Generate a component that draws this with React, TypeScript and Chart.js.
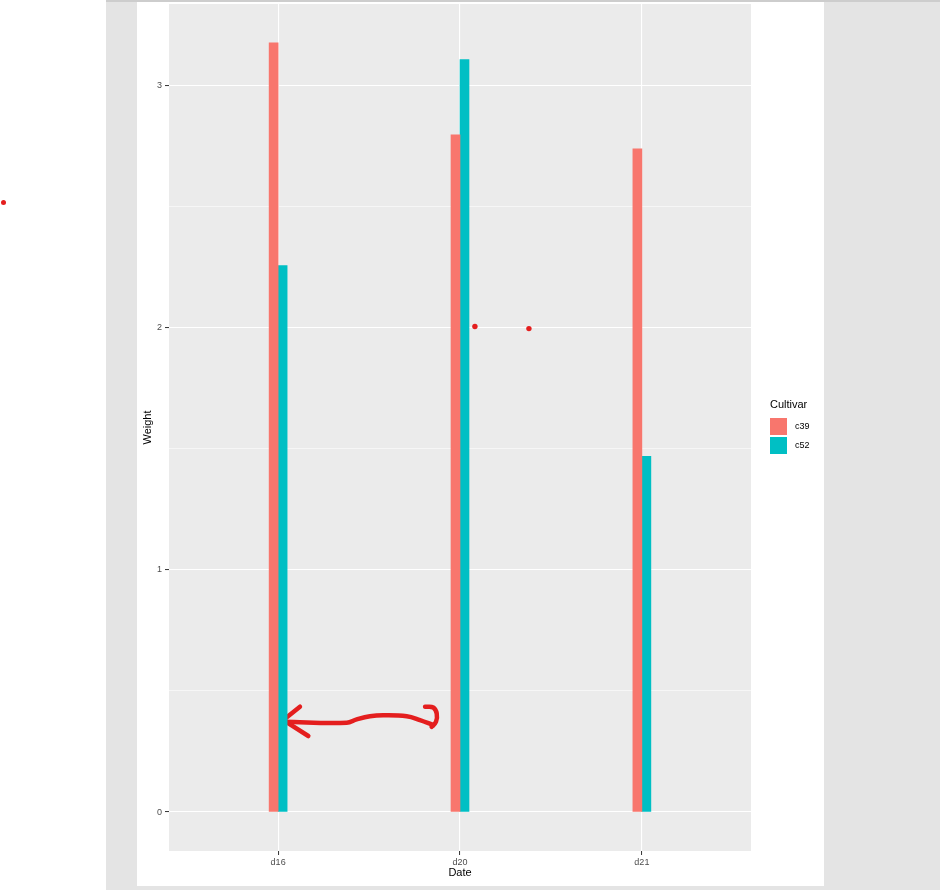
import React, { useEffect, useRef } from 'react';
import { Chart, registerables } from 'chart.js';

Chart.register(...registerables);

// data
const dates = ['d16', 'd20', 'd21'];
const cultivars = ['c39', 'c52'];
const c39Weight = [3.178, 2.798, 2.74];
const c52Weight = [2.257, 3.108, 1.469];
const weightTicks = [0, 0.5, 1, 1.5, 2, 2.5, 3];
const cultivarColors = ['#F8766D', '#00BFC4'];

// red hand-drawn annotation, in data units (x = date index, y = weight)
const arrowShaft = [
  [0.029, 0.373], [0.377, 0.369], [0.432, 0.383], [0.505, 0.396],
  [0.578, 0.4], [0.707, 0.396], [0.78, 0.38], [0.853, 0.359],
];
const arrowHook = [
  [0.808, 0.435], [0.853, 0.432], [0.872, 0.407], [0.868, 0.373], [0.844, 0.352],
];
const arrowBarbs = [
  [0.12, 0.435], [0.029, 0.38], [0.166, 0.314],
];
const redDots = [
  [1.082, 2.006], [1.379, 1.997],
];

const FONT = '"Liberation Sans", Arial, sans-serif';
const RED = '#E41E1E';

const panelBackground = {
  id: 'panelBackground',
  beforeDraw(chart: Chart) {
    const { ctx, chartArea } = chart;
    ctx.save();
    ctx.fillStyle = '#EBEBEB';
    ctx.fillRect(chartArea.left, chartArea.top, chartArea.right - chartArea.left, chartArea.bottom - chartArea.top);
    ctx.restore();
  },
};

const toPoints = (arr: number[][]) => arr.map(([x, y]) => ({ x, y }));

const annotationLine = (pts: number[][], tension: number) => ({
  type: 'line' as const,
  data: toPoints(pts),
  borderColor: RED,
  borderWidth: 4.5,
  borderCapStyle: 'round' as const,
  borderJoinStyle: 'round' as const,
  pointRadius: 0,
  tension,
  fill: false,
});

const WeightChart: React.FC = () => {
  const canvasRef = useRef<HTMLCanvasElement>(null);

  useEffect(() => {
    if (!canvasRef.current) return;
    const series = [c39Weight, c52Weight];

    const chart = new Chart(canvasRef.current, {
      type: 'bar',
      data: {
        datasets: [
          ...series.map((vals, s) => ({
            type: 'bar' as const,
            label: cultivars[s],
            data: vals.map((y, i) => ({ x: i, y })),
            backgroundColor: cultivarColors[s],
            borderWidth: 0,
            barThickness: 9,
          })),
          annotationLine(arrowShaft, 0.4),
          annotationLine(arrowHook, 0.4),
          annotationLine(arrowBarbs, 0),
          {
            type: 'scatter' as const,
            data: toPoints(redDots),
            backgroundColor: RED,
            borderWidth: 0,
            pointRadius: 2.7,
          },
        ] as any,
      },
      options: {
        responsive: false,
        animation: false,
        events: [],
        layout: { padding: { top: 1, right: 73, left: 0, bottom: 0 } },
        plugins: {
          legend: { display: false },
          tooltip: { enabled: false },
        },
        scales: {
          x: {
            type: 'linear',
            offset: false,
            min: -0.6,
            max: 2.6,
            afterBuildTicks: (scale: any) => {
              scale.ticks = dates.map((_, i) => ({ value: i }));
            },
            afterFit: (scale: any) => {
              scale.height = 35;
              scale.paddingLeft = 0;
              scale.paddingRight = 0;
            },
            border: { display: false },
            grid: {
              offset: false,
              color: '#FFFFFF',
              lineWidth: 1.1,
              tickColor: '#333333',
              tickLength: 4,
              tickWidth: 1,
            },
            ticks: {
              autoSkip: false,
              maxRotation: 0,
              padding: 2,
              color: '#4D4D4D',
              font: { family: FONT, size: 9 },
              callback: (v: any) => dates[v] ?? '',
            },
            title: {
              display: true,
              text: 'Date',
              color: '#000000',
              font: { family: FONT, size: 11 },
              padding: { top: 4, bottom: 6 },
            },
          },
          y: {
            type: 'linear',
            min: -0.161,
            max: 3.338,
            afterBuildTicks: (scale: any) => {
              scale.ticks = weightTicks.map((value) => ({ value }));
            },
            afterFit: (scale: any) => {
              scale.width = 32;
              scale.paddingTop = 0;
              scale.paddingBottom = 0;
            },
            border: { display: false },
            grid: {
              color: '#FFFFFF',
              lineWidth: (ctx: any) => (Number.isInteger(ctx.tick?.value) ? 1.1 : 0.55),
              tickColor: (ctx: any) => (Number.isInteger(ctx.tick?.value) ? '#333333' : 'rgba(0,0,0,0)'),
              tickLength: 4,
              tickWidth: 1,
            },
            ticks: {
              padding: 3,
              color: '#4D4D4D',
              font: { family: FONT, size: 9 },
              callback: (v: any) => (Number.isInteger(v) ? String(v) : ''),
            },
            title: {
              display: true,
              text: 'Weight',
              color: '#000000',
              font: { family: FONT, size: 11 },
              padding: { top: 4, bottom: 4 },
            },
          },
        },
      },
      plugins: [panelBackground],
    });

    return () => {
      chart.destroy();
    };
  }, []);

  return <canvas ref={canvasRef} width={687} height={886} style={{ display: 'block', marginTop: -2 }} />;
};

export default function App() {
  return (
    <div style={{ position: 'absolute', left: 0, top: 0, width: 940, height: 890, background: '#FFFFFF', fontFamily: FONT }}>
      {/* stray red mark at the far left of the screenshot */}
      <div style={{ position: 'absolute', left: 0.5, top: 199.5, width: 5, height: 5, borderRadius: '50%', background: RED }} />
      <div style={{ position: 'absolute', left: 106, top: 0, width: 834, height: 890, background: '#E4E4E4', borderTop: '2px solid #CDCDCD', boxSizing: 'border-box' }} />
      <div style={{ position: 'absolute', left: 137, top: 2, width: 687, height: 884, background: '#FFFFFF' }}>
        <WeightChart />
      </div>
      {/* legend */}
      <div style={{ position: 'absolute', left: 770, top: 397, fontSize: 11, lineHeight: '14px', color: '#000000' }}>Cultivar</div>
      {cultivars.map((name, i) => (
        <React.Fragment key={name}>
          <div
            style={{
              position: 'absolute',
              left: 770,
              top: 418 + i * 19,
              width: 17,
              height: 17,
              background: cultivarColors[i],
            }}
          />
          <div
            style={{
              position: 'absolute',
              left: 795,
              top: 420 + i * 19,
              fontSize: 9,
              lineHeight: '13px',
              color: '#000000',
            }}
          >
            {name}
          </div>
        </React.Fragment>
      ))}
    </div>
  );
}
